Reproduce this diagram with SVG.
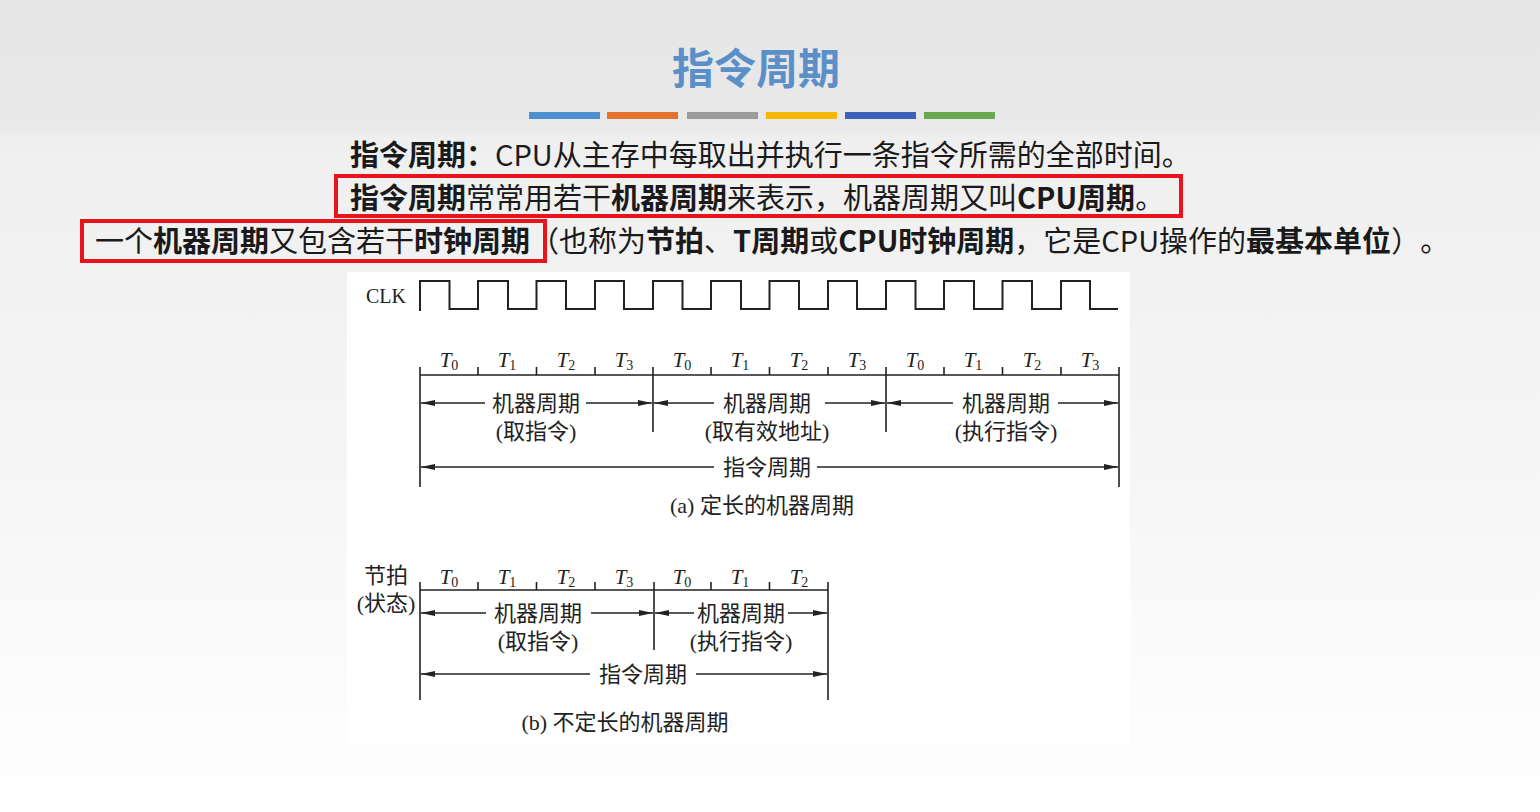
<svg xmlns="http://www.w3.org/2000/svg" width="1540" height="812" viewBox="0 0 1540 812">
<defs>
<linearGradient id="bg" x1="0" y1="0" x2="0" y2="1">
<stop offset="0" stop-color="#e6e6e6"/>
<stop offset="0.16" stop-color="#e9e9e9"/>
<stop offset="0.17" stop-color="#efefef"/>
<stop offset="0.6" stop-color="#f6f6f6"/>
<stop offset="1" stop-color="#ffffff"/>
</linearGradient>
<marker id="ah" viewBox="0 0 14 6" refX="14" refY="3" markerWidth="14" markerHeight="6" markerUnits="userSpaceOnUse" orient="auto">
<path d="M0,0 L14,3 L0,6 Z" fill="#222"/>
</marker>
</defs>
<style>
.body{font-family:"Noto Sans CJK SC","Noto Sans",sans-serif;font-size:29px;fill:#1a1a1a;text-spacing-trim:space-all}
.b{font-weight:bold}
.hl{fill:none;stroke:#e8131b;stroke-width:4}
.lbl{font-family:"Liberation Serif","Noto Sans CJK SC",serif;font-size:22px;fill:#222;text-anchor:middle}
.t{font-family:"Liberation Serif",serif;font-style:italic;font-size:21px;fill:#222;text-anchor:middle}
.sub{font-style:normal;font-size:14px}
.ln{stroke:#222;stroke-width:1.6;fill:none}
.ar{stroke:#222;stroke-width:1.6;fill:none;marker-end:url(#ah)}
.wave{stroke:#222;stroke-width:2;fill:none}
</style>
<rect x="0" y="0" width="1540" height="812" fill="url(#bg)"/>
<g id="title">
<text x="756" y="84" font-family="Noto Sans CJK SC, sans-serif" font-size="42" font-weight="bold" fill="#5b8fc8" text-anchor="middle">指令周期</text>
</g>
<g id="colorbars">
<rect x="529" y="112" width="71" height="7" fill="#4e8fcf"/>
<rect x="607" y="112" width="71" height="7" fill="#e4732f"/>
<rect x="687" y="112" width="71" height="7" fill="#9b9b9b"/>
<rect x="766" y="112" width="71" height="7" fill="#f5b800"/>
<rect x="845" y="112" width="71" height="7" fill="#3d62b7"/>
<rect x="924" y="112" width="71" height="7" fill="#6aa84f"/>
</g>
<g id="line1">
<text class="body" x="350" y="166"><tspan class="b">指令周期：</tspan>CPU从主存中每取出并执行一条指令所需的全部时间。</text>
</g>
<g id="line2">
<text class="body" x="350" y="209"><tspan class="b">指令周期</tspan>常常用若干<tspan class="b">机器周期</tspan>来表示，机器周期又叫<tspan class="b">CPU周期</tspan>。</text>
<rect class="hl" x="336" y="176" width="845" height="40"/>
</g>
<g id="line3">
<text class="body" x="95" y="252">一个<tspan class="b">机器周期</tspan>又包含若干<tspan class="b">时钟周期</tspan>（也称为<tspan class="b">节拍</tspan>、<tspan class="b">T周期</tspan>或<tspan class="b">CPU时钟周期</tspan>，它是CPU操作的<tspan class="b">最基本单位</tspan>）。</text>
<rect class="hl" x="82" y="221" width="463" height="40"/>
</g>
<rect x="347" y="272" width="783" height="473" fill="#ffffff"/>
<g id="clk">
<text x="366" y="303" font-family="Liberation Serif, serif" font-size="20" fill="#222">CLK</text>
<path class="wave" d="M420,311 V281 H449.5 V309 H478 V281 H508 V309 H536.5 V281 H566 V309 H595 V281 H624 V309 H653 V281 H682.5 V309 H711 V281 H741 V309 H769.5 V281 H799 V309 H828 V281 H857 V309 H886 V281 H915.5 V309 H944 V281 H974 V309 H1002.5 V281 H1032 V309 H1061 V281 H1090 V309 H1118"/>
</g>
<g id="diagram-a">
<g id="a-scale">
<path class="ln" d="M420,375 H1119 M420,367 V487 M653,367 V432 M886,367 V432 M1119,367 V487 M478,367 V375 M536.5,367 V375 M595,367 V375 M711,367 V375 M769.5,367 V375 M828,367 V375 M944,367 V375 M1002.5,367 V375 M1061,367 V375"/>
<text class="t" x="449" y="367">T<tspan class="sub" dy="3">0</tspan></text>
<text class="t" x="507" y="367">T<tspan class="sub" dy="3">1</tspan></text>
<text class="t" x="566" y="367">T<tspan class="sub" dy="3">2</tspan></text>
<text class="t" x="624" y="367">T<tspan class="sub" dy="3">3</tspan></text>
<text class="t" x="682" y="367">T<tspan class="sub" dy="3">0</tspan></text>
<text class="t" x="740" y="367">T<tspan class="sub" dy="3">1</tspan></text>
<text class="t" x="799" y="367">T<tspan class="sub" dy="3">2</tspan></text>
<text class="t" x="857" y="367">T<tspan class="sub" dy="3">3</tspan></text>
<text class="t" x="915" y="367">T<tspan class="sub" dy="3">0</tspan></text>
<text class="t" x="973" y="367">T<tspan class="sub" dy="3">1</tspan></text>
<text class="t" x="1032" y="367">T<tspan class="sub" dy="3">2</tspan></text>
<text class="t" x="1090" y="367">T<tspan class="sub" dy="3">3</tspan></text>
</g>
<g id="a-mc1">
<text class="lbl" x="536" y="411">机器周期</text>
<text class="lbl" x="536" y="439">(取指令)</text>
</g>
<g id="a-mc2">
<text class="lbl" x="767" y="411">机器周期</text>
<text class="lbl" x="767" y="439">(取有效地址)</text>
</g>
<g id="a-mc3">
<text class="lbl" x="1006" y="411">机器周期</text>
<text class="lbl" x="1006" y="439">(执行指令)</text>
</g>
<g id="a-ic">
<text class="lbl" x="767" y="475">指令周期</text>
</g>
<text class="lbl" x="762" y="513" font-size="22">(a) 定长的机器周期</text>
</g>
<g id="diagram-b">
<g id="b-scale">
<text class="lbl" x="386" y="583" font-size="21">节拍</text>
<text class="lbl" x="386" y="611" font-size="21">(状态)</text>
<path class="ln" d="M420,590 H828 M420,582 V700 M654,582 V650 M828,582 V700 M478,582 V590 M536.5,582 V590 M595,582 V590 M711,582 V590 M769.5,582 V590"/>
<text class="t" x="449" y="584">T<tspan class="sub" dy="3">0</tspan></text>
<text class="t" x="507" y="584">T<tspan class="sub" dy="3">1</tspan></text>
<text class="t" x="566" y="584">T<tspan class="sub" dy="3">2</tspan></text>
<text class="t" x="624" y="584">T<tspan class="sub" dy="3">3</tspan></text>
<text class="t" x="682" y="584">T<tspan class="sub" dy="3">0</tspan></text>
<text class="t" x="740" y="584">T<tspan class="sub" dy="3">1</tspan></text>
<text class="t" x="799" y="584">T<tspan class="sub" dy="3">2</tspan></text>
</g>
<g id="b-mc1">
<text class="lbl" x="538" y="621">机器周期</text>
<text class="lbl" x="538" y="649">(取指令)</text>
</g>
<g id="b-mc2">
<text class="lbl" x="741" y="621">机器周期</text>
<text class="lbl" x="741" y="649">(执行指令)</text>
</g>
<g id="b-ic">
<text class="lbl" x="643" y="682">指令周期</text>
</g>
<text class="lbl" x="625" y="730" font-size="22">(b) 不定长的机器周期</text>
</g>
<g id="connectors">
<line class="ar" x1="485" y1="403" x2="421" y2="403"/>
<line class="ar" x1="586" y1="403" x2="652" y2="403"/>
<line class="ar" x1="714" y1="403" x2="654" y2="403"/>
<line class="ar" x1="825" y1="403" x2="885" y2="403"/>
<line class="ar" x1="953" y1="403" x2="887" y2="403"/>
<line class="ar" x1="1058" y1="403" x2="1118" y2="403"/>
<line class="ar" x1="714" y1="467" x2="421" y2="467"/>
<line class="ar" x1="817" y1="467" x2="1118" y2="467"/>
<line class="ar" x1="486" y1="613" x2="421" y2="613"/>
<line class="ar" x1="591" y1="613" x2="653" y2="613"/>
<line class="ar" x1="694" y1="613" x2="655" y2="613"/>
<line class="ar" x1="788" y1="613" x2="827" y2="613"/>
<line class="ar" x1="590" y1="674" x2="421" y2="674"/>
<line class="ar" x1="696" y1="674" x2="827" y2="674"/>
</g>
</svg>
